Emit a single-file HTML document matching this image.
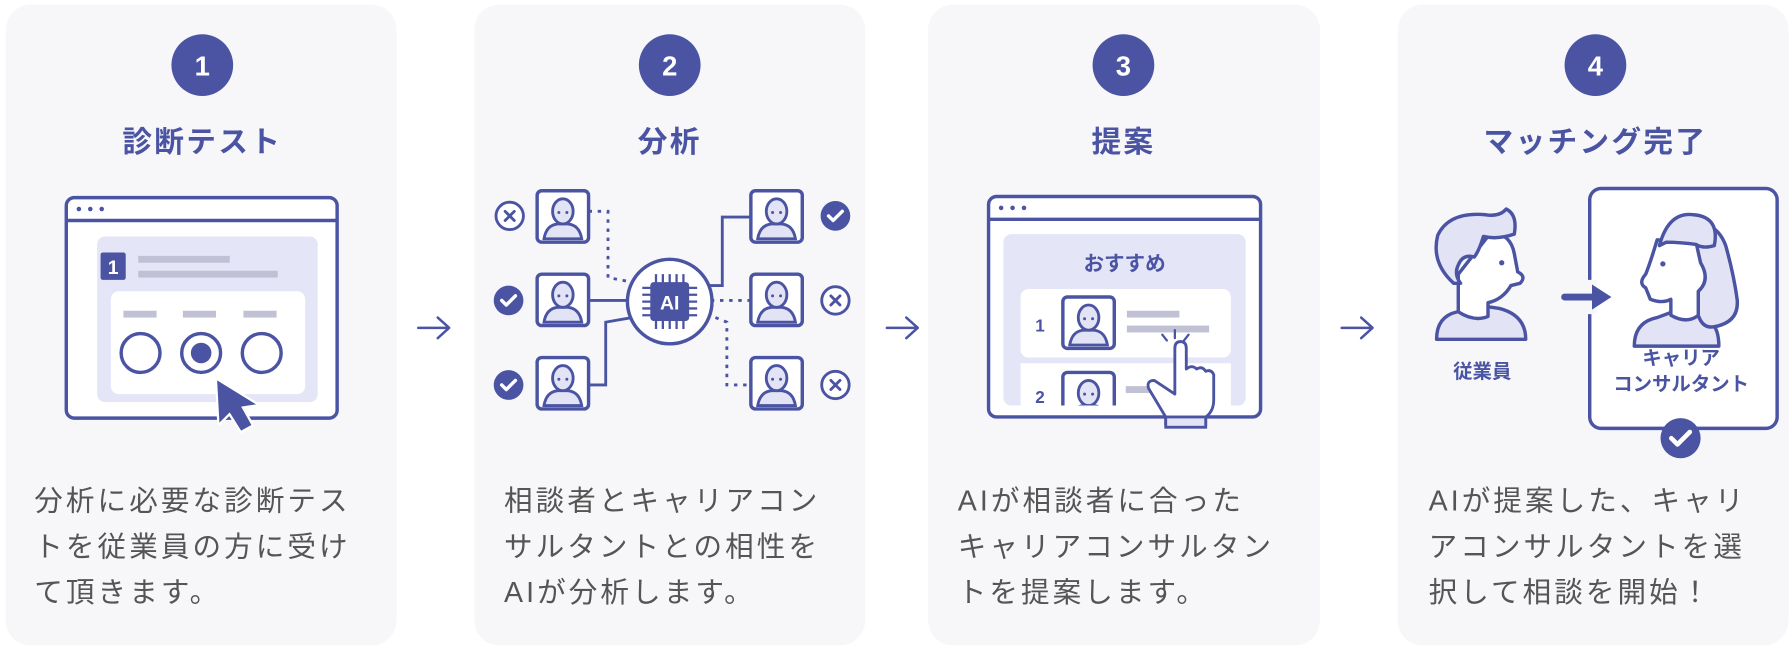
<!DOCTYPE html>
<html><head><meta charset="utf-8"><style>
html,body{margin:0;padding:0;background:#fff;}
svg{display:block;}
text{font-family:"Liberation Sans","Noto Sans CJK JP",sans-serif;}
</style></head><body>
<svg width="1792" height="650" viewBox="0 0 1568 569" preserveAspectRatio="none" xmlns="http://www.w3.org/2000/svg">
<defs>
<g id="pbox">
<rect x="0" y="0" width="45" height="45" rx="4" fill="#fff" stroke="#4a54a3" stroke-width="3"/>
<path d="M6 42 Q8 30 18 29 L27 29 Q37 30 39 42 Z" fill="#e2e3f5" stroke="#4a54a3" stroke-width="2.5"/>
<ellipse cx="22.5" cy="18" rx="9" ry="11" fill="#e2e3f5" stroke="#4a54a3" stroke-width="2.5"/>
<circle cx="19" cy="19" r="1.3" fill="#4a54a3"/><circle cx="26" cy="19" r="1.3" fill="#4a54a3"/>
</g>
<g id="chk"><circle r="13" fill="#4a54a3"/><path d="M-6 0 L-2 4 L6 -4" fill="none" stroke="#fff" stroke-width="3" stroke-linecap="round" stroke-linejoin="round"/></g>
<g id="xx"><circle r="12" fill="#fff" stroke="#4a54a3" stroke-width="2.5"/><path d="M-4 -4 L4 4 M4 -4 L-4 4" stroke="#4a54a3" stroke-width="2.5" stroke-linecap="round"/></g>
</defs>
<g fill="#f7f7fa">
<rect x="5" y="4" width="342" height="561" rx="22"/>
<rect x="415" y="4" width="342" height="561" rx="22"/>
<rect x="812" y="4" width="343" height="561" rx="22"/>
<rect x="1223" y="4" width="342" height="561" rx="22"/>
</g>
<g fill="#4a54a3">
<circle cx="177" cy="57" r="27"/><circle cx="586" cy="57" r="27"/><circle cx="983" cy="57" r="27"/><circle cx="1396" cy="57" r="27"/>
</g>
<g fill="#fff" font-size="24" font-weight="bold" text-anchor="middle">
<text x="177" y="66">1</text><text x="586" y="66">2</text><text x="983" y="66">3</text><text x="1396" y="66">4</text>
</g>
<g fill="#4a54a3" font-size="26" font-weight="bold" text-anchor="middle" letter-spacing="2">
<text x="177" y="133">診断テスト</text><text x="586" y="133">分析</text><text x="983" y="133">提案</text><text x="1396" y="133">マッチング完了</text>
</g>
<g fill="none" stroke="#4a54a3" stroke-width="2.2" stroke-linecap="round" stroke-linejoin="round">
<path d="M366 287 H392 M383 278 L393 287 L383 296"/>
<path d="M776 287 H802 M793 278 L803 287 L793 296"/>
<path d="M1174 287 H1200 M1191 278 L1201 287 L1191 296"/>
</g>
<g fill="#555" font-size="25" letter-spacing="2.7">
<text x="30" y="447">分析に必要な診断テス</text><text x="30" y="487">トを従業員の方に受け</text><text x="30" y="527">て頂きます。</text>
<text x="441" y="447">相談者とキャリアコン</text><text x="441" y="487">サルタントとの相性を</text><text x="441" y="527">AIが分析します。</text>
<text x="838" y="447">AIが相談者に合った</text><text x="838" y="487">キャリアコンサルタン</text><text x="838" y="527">トを提案します。</text>
<text x="1250" y="447">AIが提案した、キャリ</text><text x="1250" y="487">アコンサルタントを選</text><text x="1250" y="527">択して相談を開始！</text>
</g>
<rect x="58" y="173" width="237" height="193" rx="7" fill="#fff" stroke="#4a54a3" stroke-width="3"/>
<line x1="58" y1="193" x2="295" y2="193" stroke="#4a54a3" stroke-width="3"/>
<g fill="#4a54a3"><circle cx="69" cy="183" r="2"/><circle cx="79" cy="183" r="2"/><circle cx="89" cy="183" r="2"/></g>
<rect x="85" y="207" width="193" height="145" rx="7" fill="#e4e5f7"/>
<rect x="88" y="221" width="22" height="24" rx="2" fill="#4a54a3"/><text x="99" y="240" font-size="17" font-weight="bold" fill="#fff" text-anchor="middle">1</text>
<rect x="121" y="224" width="80" height="6" fill="#c0c1d4"/><rect x="121" y="237" width="122" height="6" fill="#c0c1d4"/>
<rect x="97" y="255" width="170" height="90" rx="7" fill="#fff"/>
<g fill="#c0c1d4"><rect x="108" y="272" width="29" height="6"/><rect x="160" y="272" width="29" height="6"/><rect x="213" y="272" width="29" height="6"/></g>
<g fill="#fff" stroke="#4a54a3" stroke-width="3"><circle cx="123" cy="309" r="17"/><circle cx="176" cy="309" r="17"/><circle cx="229" cy="309" r="17"/></g>
<circle cx="176" cy="309" r="9" fill="#4a54a3"/>
<path d="M190 333 L192 370 L201 361 L211 377 L220 372 L211 356 L224 354 Z" fill="#4a54a3" stroke="#fff" stroke-width="4" stroke-linejoin="round" paint-order="stroke"/>
<g fill="none" stroke="#4a54a3" stroke-width="2.5">
<path d="M515 185 H532 V243 L548 246" stroke-dasharray="3 5"/>
<path d="M515 263 H550"/>
<path d="M515 337 H530 V282 L553 278"/>
<path d="M620 250 H632 V190 H657"/>
<path d="M622 263 H657" stroke-dasharray="3 5"/>
<path d="M626 278 L636 282 V337 H657" stroke-dasharray="3 5"/>
</g>
<use href="#pbox" x="470" y="167"/><use href="#pbox" x="470" y="240"/><use href="#pbox" x="470" y="313"/>
<use href="#pbox" x="657" y="167"/><use href="#pbox" x="657" y="240"/><use href="#pbox" x="657" y="313"/>
<use href="#xx" x="446" y="189"/><use href="#chk" x="445" y="263"/><use href="#chk" x="445" y="337"/>
<use href="#chk" x="731" y="189"/><use href="#xx" x="731" y="263"/><use href="#xx" x="731" y="337"/>
<circle cx="586" cy="264" r="37" fill="#fff" stroke="#4a54a3" stroke-width="3"/>
<g stroke="#4a54a3" stroke-width="2"><path d="M574 240 V250 M580 240 V250 M586 240 V250 M592 240 V250 M598 240 V250 M574 278 V288 M580 278 V288 M586 278 V288 M592 278 V288 M598 278 V288 M562 252 H572 M562 258 H572 M562 264 H572 M562 270 H572 M562 276 H572 M600 252 H610 M600 258 H610 M600 264 H610 M600 270 H610 M600 276 H610"/></g>
<rect x="569" y="247" width="34" height="34" rx="3" fill="#4a54a3"/>
<text x="586" y="271" font-size="17" font-weight="bold" fill="#fff" text-anchor="middle">AI</text>
<rect x="865" y="172" width="238" height="193" rx="7" fill="#fff" stroke="#4a54a3" stroke-width="3"/>
<line x1="865" y1="192" x2="1103" y2="192" stroke="#4a54a3" stroke-width="3"/>
<g fill="#4a54a3"><circle cx="876" cy="182" r="2"/><circle cx="886" cy="182" r="2"/><circle cx="896" cy="182" r="2"/></g>
<rect x="878" y="205" width="212" height="150" rx="7" fill="#e4e5f7"/>
<text x="984" y="237" font-size="18" font-weight="bold" fill="#4a54a3" text-anchor="middle">おすすめ</text>
<rect x="893" y="253" width="184" height="60" rx="7" fill="#fff"/>
<rect x="893" y="318" width="184" height="37" fill="#fff"/>
<text x="910" y="290" font-size="15" font-weight="bold" fill="#4a54a3" text-anchor="middle">1</text>
<use href="#pbox" x="930" y="260"/>
<svg x="893" y="318" width="184" height="37" overflow="hidden"><text x="17" y="35" font-size="15" font-weight="bold" fill="#4a54a3" text-anchor="middle">2</text><use href="#pbox" x="37" y="8"/><rect x="92" y="20" width="25" height="6" fill="#c0c1d4"/></svg>
<rect x="986" y="272" width="46" height="6" fill="#c0c1d4"/><rect x="986" y="285" width="72" height="6" fill="#c0c1d4"/>
<g stroke="#4a54a3" stroke-width="2" stroke-linecap="round"><path d="M1028 289 V296 M1017 293 L1021 298 M1040 293 L1036 298"/></g>
<path d="M1028 305 Q1028 299 1033 299 Q1038 299 1038 305 V323 Q1043 319 1047 323 Q1052 320 1055 325 Q1060 323 1062 328 V350 Q1062 360 1055 365 V372 H1020 V365 L1005 340 Q1003 333 1010 333 L1028 345 Z" fill="#fff" stroke="#4a54a3" stroke-width="2.5" stroke-linejoin="round"/>
<rect x="1020" y="365" width="35" height="9" fill="#e2e3f5" stroke="#4a54a3" stroke-width="2.5"/>
<rect x="1391" y="165" width="164" height="210" rx="10" fill="#fff" stroke="#4a54a3" stroke-width="3"/>
<rect x="1383" y="245" width="14" height="30" fill="#f7f7fa"/>
<g stroke="#4a54a3" stroke-width="3" stroke-linejoin="round">
<path d="M1257 297 Q1257 277 1275 273 L1292 267 L1312 270 Q1335 276 1335 297 Z" fill="#e2e3f5"/>
<path d="M1276 240 L1276 273 Q1290 282 1302 277 L1302 265 Q1315 262 1322 250 L1330 248 Q1336 242 1328 238 L1325 222 Q1322 205 1305 203 Z" fill="#fff"/>
<path d="M1272 248 Q1252 230 1258 206 Q1268 185 1300 188 Q1312 190 1318 183 Q1328 188 1325 205 Q1310 210 1298 207 Q1294 220 1290 225 Q1280 222 1276 232 Q1272 240 1278 248 Z" fill="#e2e3f5"/>
<path d="M1430 303 Q1430 282 1450 278 L1466 272 Q1490 270 1497 282 Q1504 288 1504 303 Z" fill="#e2e3f5"/>
<path d="M1470 200 Q1500 188 1510 215 Q1517 240 1520 262 Q1522 282 1500 286 Q1490 288 1486 276 L1486 262 Z" fill="#e2e3f5"/>
<path d="M1450 210 Q1444 230 1440 240 Q1433 248 1440 252 L1444 262 Q1455 266 1462 262 L1462 276 Q1476 284 1486 276 L1486 255 Q1497 245 1488 230 L1484 212 Z" fill="#fff"/>
<path d="M1452 215 Q1460 185 1482 188 Q1505 190 1500 215 Q1490 218 1484 214 Q1470 212 1458 212 Z" fill="#e2e3f5"/>
</g>
<g fill="#4a54a3"><circle cx="1314" cy="230" r="2.3"/><circle cx="1455" cy="231" r="2.3"/></g>
<path d="M1369 260 H1395" stroke="#4a54a3" stroke-width="6" stroke-linecap="round"/>
<path d="M1393 249 L1410 260 L1393 271 Z" fill="#4a54a3"/>
<g fill="#4a54a3" font-size="17" font-weight="bold" text-anchor="middle">
<text x="1297" y="331">従業員</text><text x="1471" y="319">キャリア</text><text x="1471" y="342">コンサルタント</text>
</g>
<use href="#chk" x="1470" y="376" transform="translate(-514 -124) scale(1.35)"/>
</svg>
</body></html>
